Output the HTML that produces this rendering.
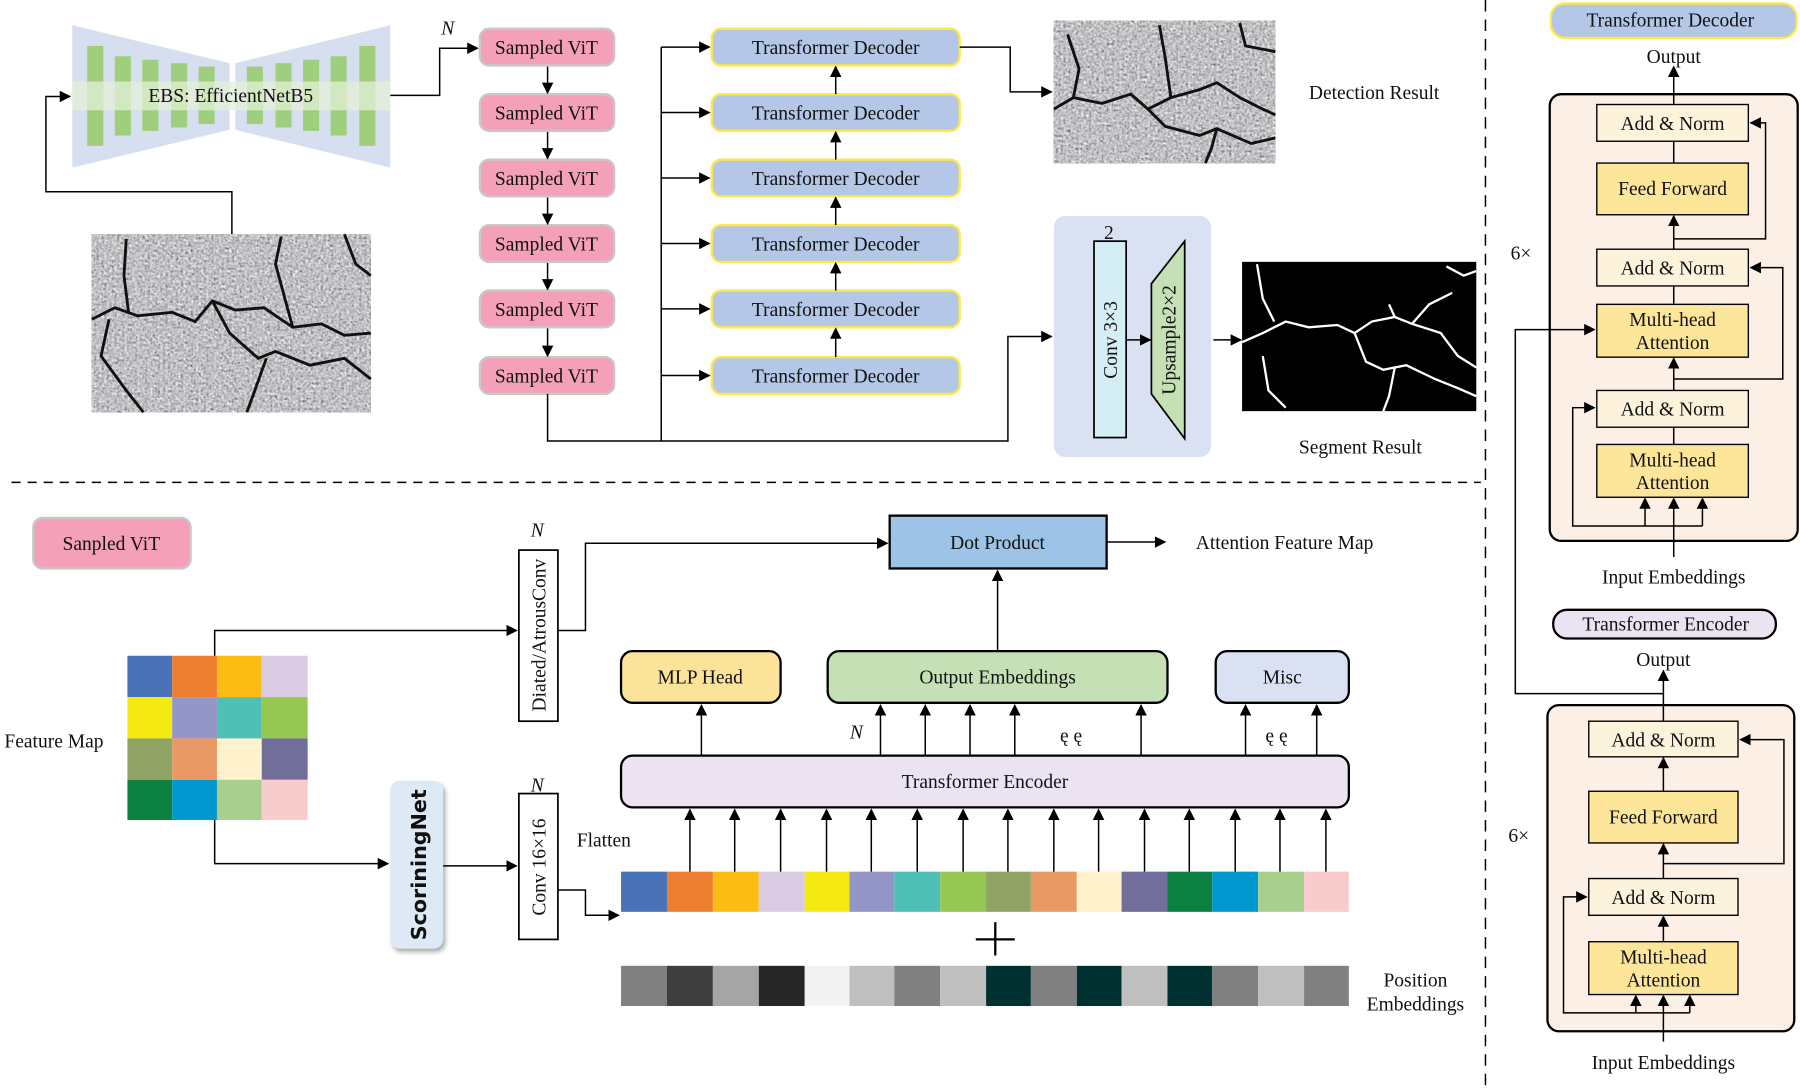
<!DOCTYPE html>
<html><head><meta charset="utf-8"><style>
html,body{margin:0;padding:0;background:#fff}
svg{display:block}
text{font-family:"Liberation Serif",serif;font-size:17px;fill:#111}
</style></head><body>
<svg width="1800" height="1091" viewBox="0 0 1568 950" preserveAspectRatio="none" xmlns="http://www.w3.org/2000/svg">
<defs>
<marker id="a" markerWidth="10" markerHeight="10" refX="9" refY="5" orient="auto" markerUnits="userSpaceOnUse" viewBox="0 0 10 10"><path d="M0,0 L10,5 L0,10 z" fill="#000"/></marker>
<filter id="tex" x="0" y="0" width="100%" height="100%"><feTurbulence type="fractalNoise" baseFrequency="0.45" numOctaves="2" seed="3"/><feColorMatrix type="matrix" values="0.55 0.55 0.55 0 -0.3  0.55 0.55 0.55 0 -0.3  0.55 0.55 0.55 0 -0.28  0 0 0 0 1"/></filter>
<filter id="sh"><feDropShadow dx="2" dy="3" stdDeviation="2" flood-color="#888" flood-opacity="0.7"/></filter>
</defs>
<!-- EBS -->
<polygon points="63,22 200,55 200,113 63,146" fill="#d6dff0"/>
<polygon points="340,22 205,55 205,113 340,146" fill="#d6dff0"/>
<g fill="#9fcf7d">
<rect x="76" y="40" width="14" height="87"/><rect x="100" y="49" width="14" height="69"/><rect x="124" y="52" width="14" height="62"/><rect x="149" y="55" width="14" height="56"/><rect x="173" y="58" width="14" height="50"/>
<rect x="215" y="58" width="14" height="50"/><rect x="240" y="55" width="14" height="56"/><rect x="264" y="52" width="14" height="62"/><rect x="288" y="49" width="14" height="69"/><rect x="313" y="40" width="14" height="87"/>
</g>
<rect x="63" y="71" width="277" height="25" fill="#e4efd8" opacity="0.75"/>
<text x="201" y="89" text-anchor="middle">EBS: EfficientNetB5</text>
<text x="390" y="30" text-anchor="middle" font-style="italic">N</text>
<g stroke="#000" stroke-width="1.3" fill="none">
<polyline points="340,83 383,83 383,42 416,42" marker-end="url(#a)"/>
<polyline points="202,205 202,167 40,167 40,84 61,84" marker-end="url(#a)"/>
</g>
<!-- crack image 1 -->
<rect x="80" y="204" width="243" height="155" filter="url(#tex)"/>
<g stroke="#111" stroke-width="2.5" fill="none">
<path d="M80,278 L100,268 L120,275 L150,272 L170,280 L185,262 L205,270 L230,268 L255,285 L280,282 L300,292 L323,290"/>
<path d="M110,208 L108,240 L112,272"/><path d="M185,262 L200,290 L225,312 L240,306 L270,318 L300,312 L323,330"/>
<path d="M232,312 L222,340 L215,359"/><path d="M95,278 L88,310 L110,340 L125,359"/><path d="M245,206 L240,230 L255,285"/><path d="M300,204 L310,230 L323,240"/>
</g>
<!-- Sampled ViT column -->
<g fill="#f4a0b8" stroke="#c8c8c8" stroke-width="2">
<rect x="418" y="25" width="117" height="32" rx="8"/><rect x="418" y="82" width="117" height="32" rx="8"/><rect x="418" y="139" width="117" height="32" rx="8"/><rect x="418" y="196" width="117" height="32" rx="8"/><rect x="418" y="253" width="117" height="32" rx="8"/><rect x="418" y="311" width="117" height="32" rx="8"/>
</g>
<g text-anchor="middle">
<text x="476" y="47">Sampled ViT</text><text x="476" y="104">Sampled ViT</text><text x="476" y="161">Sampled ViT</text><text x="476" y="218">Sampled ViT</text><text x="476" y="275">Sampled ViT</text><text x="476" y="333">Sampled ViT</text>
</g>
<g fill="#b4c7e7" stroke="#ffe84a" stroke-width="2">
<rect x="620" y="25" width="216" height="32" rx="8"/><rect x="620" y="82" width="216" height="32" rx="8"/><rect x="620" y="139" width="216" height="32" rx="8"/><rect x="620" y="196" width="216" height="32" rx="8"/><rect x="620" y="253" width="216" height="32" rx="8"/><rect x="620" y="311" width="216" height="32" rx="8"/>
</g>
<g text-anchor="middle">
<text x="728" y="47">Transformer Decoder</text><text x="728" y="104">Transformer Decoder</text><text x="728" y="161">Transformer Decoder</text><text x="728" y="218">Transformer Decoder</text><text x="728" y="275">Transformer Decoder</text><text x="728" y="333">Transformer Decoder</text>
</g>
<g stroke="#000" stroke-width="1.3" fill="none" marker-end="url(#a)">
<line x1="477" y1="58" x2="477" y2="81"/><line x1="477" y1="115" x2="477" y2="138"/><line x1="477" y1="172" x2="477" y2="195"/><line x1="477" y1="229" x2="477" y2="252"/><line x1="477" y1="286" x2="477" y2="310"/>
<line x1="728" y1="82" x2="728" y2="58"/><line x1="728" y1="139" x2="728" y2="115"/><line x1="728" y1="196" x2="728" y2="172"/><line x1="728" y1="253" x2="728" y2="229"/><line x1="728" y1="311" x2="728" y2="286"/>
<line x1="576" y1="41" x2="618" y2="41"/><line x1="576" y1="98" x2="618" y2="98"/><line x1="576" y1="155" x2="618" y2="155"/><line x1="576" y1="212" x2="618" y2="212"/><line x1="576" y1="269" x2="618" y2="269"/><line x1="576" y1="327" x2="618" y2="327"/>
<polyline points="477,343 477,384 878,384 878,293 916,293"/>
<polyline points="836,41 880,41 880,80 916,80"/>
</g>
<line x1="576" y1="41" x2="576" y2="384" stroke="#000" stroke-width="1.3"/>
<!-- detection image -->
<rect x="918" y="18" width="193" height="124" filter="url(#tex)"/>
<g stroke="#111" stroke-width="2.5" fill="none">
<path d="M918,95 L935,85 L960,90 L985,82 L1000,95 L1020,85 L1045,78 L1060,72 L1080,85 L1100,95 L1111,100"/>
<path d="M1000,95 L1015,110 L1045,118 L1060,112 L1090,125 L1111,120"/><path d="M1060,112 L1055,130 L1050,142"/><path d="M1010,22 L1015,50 L1020,85"/><path d="M930,30 L940,60 L935,85"/><path d="M1080,20 L1085,40 L1111,45"/>
</g>
<text x="1197" y="86" text-anchor="middle">Detection Result</text>
<!-- seg block -->
<rect x="918" y="188" width="137" height="210" rx="10" fill="#dae1f2"/>
<text x="966" y="208" text-anchor="middle">2</text>
<rect x="953" y="210" width="28" height="171" fill="#d5eef5" stroke="#000" stroke-width="1.5"/>
<text transform="translate(973,296) rotate(-90)" text-anchor="middle">Conv 3×3</text>
<polygon points="1003,247 1032,210 1032,382 1003,343" fill="#c5e0b4" stroke="#000" stroke-width="1.5"/>
<text transform="translate(1024,296) rotate(-90)" text-anchor="middle">Upsample2×2</text>
<g stroke="#000" stroke-width="1.3" fill="none" marker-end="url(#a)">
<line x1="981" y1="296" x2="1002" y2="296"/><line x1="1057" y1="296" x2="1081" y2="296"/>
</g>
<rect x="1082" y="228" width="204" height="130" fill="#000"/>
<g stroke="#fff" stroke-width="2" fill="none">
<path d="M1082,298 L1100,290 L1120,280 L1140,285 L1165,283 L1180,290 L1195,280 L1215,276 L1230,282 L1255,290 L1270,310 L1286,320"/>
<path d="M1180,290 L1190,315 L1205,322 L1225,318 L1250,330 L1270,338 L1286,345"/><path d="M1215,320 L1210,345 L1205,358"/>
<path d="M1095,230 L1100,260 L1110,280"/><path d="M1100,310 L1105,340 L1120,355"/><path d="M1210,265 L1215,276"/><path d="M1260,232 L1275,240 L1286,236"/><path d="M1230,282 L1245,265 L1265,255"/>
</g>
<text x="1185" y="395" text-anchor="middle">Segment Result</text>
<!-- dashed separators -->
<line x1="10" y1="420" x2="1290" y2="420" stroke="#000" stroke-width="1.3" stroke-dasharray="8,6"/>
<line x1="1294" y1="0" x2="1294" y2="950" stroke="#000" stroke-width="1.3" stroke-dasharray="10,7"/>
<!-- Right panel decoder -->
<rect x="1351" y="3" width="214" height="30" rx="12" fill="#b4c7e7" stroke="#ffe84a" stroke-width="2"/>
<text x="1455" y="23" text-anchor="middle">Transformer Decoder</text>
<text x="1458" y="55" text-anchor="middle">Output</text>
<rect x="1350" y="82" width="216" height="389" rx="10" fill="#fcefe6" stroke="#000" stroke-width="2"/>
<g stroke="#000" stroke-width="1.2">
<rect x="1391" y="91" width="132" height="32" fill="#fdf3dc"/>
<rect x="1391" y="142" width="132" height="45" fill="#fde59a"/>
<rect x="1391" y="217" width="132" height="32" fill="#fdf3dc"/>
<rect x="1391" y="265" width="132" height="46" fill="#fde59a"/>
<rect x="1391" y="340" width="132" height="32" fill="#fdf3dc"/>
<rect x="1391" y="387" width="132" height="46" fill="#fde59a"/>
</g>
<g text-anchor="middle">
<text x="1457" y="113">Add &amp; Norm</text><text x="1457" y="170">Feed Forward</text><text x="1457" y="239">Add &amp; Norm</text>
<text x="1457" y="284">Multi-head</text><text x="1457" y="304">Attention</text><text x="1457" y="362">Add &amp; Norm</text>
<text x="1457" y="406">Multi-head</text><text x="1457" y="426">Attention</text>
</g>
<g stroke="#000" stroke-width="1.3" fill="none">
<line x1="1458" y1="91" x2="1458" y2="58" marker-end="url(#a)"/>
<line x1="1458" y1="142" x2="1458" y2="123"/>
<line x1="1458" y1="217" x2="1458" y2="188" marker-end="url(#a)"/>
<line x1="1458" y1="265" x2="1458" y2="249"/>
<line x1="1458" y1="340" x2="1458" y2="312" marker-end="url(#a)"/>
<line x1="1458" y1="387" x2="1458" y2="372"/>
<polyline points="1458,208 1538,208 1538,107 1525,107" marker-end="url(#a)"/>
<polyline points="1458,330 1553,330 1553,233 1525,233" marker-end="url(#a)"/>
<polyline points="1483,458 1370,458 1370,355 1389,355" marker-end="url(#a)"/>
<line x1="1458" y1="485" x2="1458" y2="434" marker-end="url(#a)"/>
<line x1="1433" y1="458" x2="1433" y2="434" marker-end="url(#a)"/>
<line x1="1483" y1="458" x2="1483" y2="434" marker-end="url(#a)"/>
<polyline points="1449,604 1320,604 1320,287 1389,287" marker-end="url(#a)"/>
</g>
<text x="1325" y="226" text-anchor="middle">6×</text>
<text x="1458" y="508" text-anchor="middle">Input Embeddings</text>
<!-- Right panel encoder -->
<rect x="1353" y="531" width="194" height="25" rx="12" fill="#ebe3f2" stroke="#000" stroke-width="2"/>
<text x="1451" y="549" text-anchor="middle">Transformer Encoder</text>
<text x="1449" y="580" text-anchor="middle">Output</text>
<rect x="1348" y="614" width="215" height="284" rx="10" fill="#fcefe6" stroke="#000" stroke-width="2"/>
<g stroke="#000" stroke-width="1.2">
<rect x="1384" y="628" width="130" height="31" fill="#fdf3dc"/>
<rect x="1384" y="689" width="130" height="45" fill="#fde59a"/>
<rect x="1384" y="765" width="130" height="32" fill="#fdf3dc"/>
<rect x="1384" y="820" width="130" height="46" fill="#fde59a"/>
</g>
<g text-anchor="middle">
<text x="1449" y="650">Add &amp; Norm</text><text x="1449" y="717">Feed Forward</text><text x="1449" y="787">Add &amp; Norm</text>
<text x="1449" y="839">Multi-head</text><text x="1449" y="859">Attention</text>
</g>
<g stroke="#000" stroke-width="1.3" fill="none">
<line x1="1449" y1="628" x2="1449" y2="584" marker-end="url(#a)"/>
<line x1="1449" y1="689" x2="1449" y2="660" marker-end="url(#a)"/>
<line x1="1449" y1="765" x2="1449" y2="735" marker-end="url(#a)"/>
<line x1="1449" y1="820" x2="1449" y2="798" marker-end="url(#a)"/>
<polyline points="1449,752 1554,752 1554,644 1516,644" marker-end="url(#a)"/>
<polyline points="1472,882 1362,882 1362,781 1382,781" marker-end="url(#a)"/>
<line x1="1449" y1="907" x2="1449" y2="867" marker-end="url(#a)"/>
<line x1="1425" y1="882" x2="1425" y2="867" marker-end="url(#a)"/>
<line x1="1472" y1="882" x2="1472" y2="867" marker-end="url(#a)"/>
</g>
<text x="1323" y="733" text-anchor="middle">6×</text>
<text x="1449" y="931" text-anchor="middle">Input Embeddings</text>
<!-- Bottom left -->
<rect x="29" y="451" width="137" height="44" rx="8" fill="#f4a0b8" stroke="#c8c8c8" stroke-width="2"/>
<text x="97" y="479" text-anchor="middle">Sanpled  ViT</text>
<g>
<rect x="111" y="571" width="39" height="36" fill="#4a72b8"/><rect x="150" y="571" width="39" height="36" fill="#ed7d31"/><rect x="189" y="571" width="39" height="36" fill="#fbbc13"/><rect x="228" y="571" width="40" height="36" fill="#d8cbe2"/>
<rect x="111" y="607" width="39" height="36" fill="#f4e910"/><rect x="150" y="607" width="39" height="36" fill="#9596c8"/><rect x="189" y="607" width="39" height="36" fill="#50c0b6"/><rect x="228" y="607" width="40" height="36" fill="#94c852"/>
<rect x="111" y="643" width="39" height="36" fill="#90a264"/><rect x="150" y="643" width="39" height="36" fill="#e99a64"/><rect x="189" y="643" width="39" height="36" fill="#fff2cc"/><rect x="228" y="643" width="40" height="36" fill="#716e9c"/>
<rect x="111" y="679" width="39" height="35" fill="#0b8040"/><rect x="150" y="679" width="39" height="35" fill="#0098cf"/><rect x="189" y="679" width="39" height="35" fill="#a9cf8e"/><rect x="228" y="679" width="40" height="35" fill="#f8cbcc"/>
</g>
<text x="47" y="651" text-anchor="middle">Feature Map</text>
<rect x="452" y="479" width="34" height="149" fill="#fff" stroke="#000" stroke-width="1.5"/>
<text transform="translate(475,553) rotate(-90)" text-anchor="middle">Diated/AtrousConv</text>
<text x="468" y="467" text-anchor="middle" font-style="italic">N</text>
<rect x="775" y="449" width="189" height="46" fill="#9dc3e6" stroke="#000" stroke-width="2"/>
<text x="869" y="478" text-anchor="middle">Dot Product</text>
<text x="1119" y="478" text-anchor="middle">Attention Feature Map</text>
<rect x="340" y="680" width="46" height="146" rx="8" fill="#ddeaf6" filter="url(#sh)"/>
<text transform="translate(371,753) rotate(-90)" text-anchor="middle" style="font-family:'DejaVu Sans','Liberation Sans',sans-serif;font-weight:bold;font-size:18px">ScoriningNet</text>
<rect x="452" y="691" width="34" height="127" fill="#fff" stroke="#000" stroke-width="1.5"/>
<text transform="translate(475,755) rotate(-90)" text-anchor="middle">Conv 16×16</text>
<text x="468" y="689" text-anchor="middle" font-style="italic">N</text>
<text x="526" y="737" text-anchor="middle">Flatten</text>
<g stroke="#000" stroke-width="1.3" fill="none" marker-end="url(#a)">
<polyline points="187,571 187,549 450,549"/>
<polyline points="486,549 510,549 510,473 773,473"/>
<line x1="964" y1="472" x2="1015" y2="472"/>
<polyline points="187,714 187,752 338,752"/>
<line x1="386" y1="754" x2="450" y2="754"/>
<polyline points="486,775 510,775 510,797 539,797"/>
<line x1="869" y1="567" x2="869" y2="497"/>
<line x1="611" y1="658" x2="611" y2="614"/>
<line x1="767" y1="658" x2="767" y2="614"/><line x1="806" y1="658" x2="806" y2="614"/><line x1="845" y1="658" x2="845" y2="614"/><line x1="884" y1="658" x2="884" y2="614"/><line x1="994" y1="658" x2="994" y2="614"/>
<line x1="1085" y1="658" x2="1085" y2="614"/><line x1="1147" y1="658" x2="1147" y2="614"/>
</g>
<!-- token rows -->
<g>
<rect x="541" y="759" width="40" height="35" fill="#4a72b8"/><rect x="581" y="759" width="40" height="35" fill="#ed7d31"/><rect x="621" y="759" width="40" height="35" fill="#fbbc13"/><rect x="661" y="759" width="40" height="35" fill="#d8cbe2"/>
<rect x="701" y="759" width="39" height="35" fill="#f4e910"/><rect x="740" y="759" width="39" height="35" fill="#9596c8"/><rect x="779" y="759" width="40" height="35" fill="#50c0b6"/><rect x="819" y="759" width="40" height="35" fill="#94c852"/>
<rect x="859" y="759" width="39" height="35" fill="#90a264"/><rect x="898" y="759" width="40" height="35" fill="#e99a64"/><rect x="938" y="759" width="39" height="35" fill="#fff2cc"/><rect x="977" y="759" width="40" height="35" fill="#716e9c"/>
<rect x="1017" y="759" width="39" height="35" fill="#0b8040"/><rect x="1056" y="759" width="40" height="35" fill="#0098cf"/><rect x="1096" y="759" width="40" height="35" fill="#a9cf8e"/><rect x="1136" y="759" width="39" height="35" fill="#f8cbcc"/>
</g>
<g>
<rect x="541" y="841" width="40" height="35" fill="#808080"/><rect x="581" y="841" width="40" height="35" fill="#3e3e3e"/><rect x="621" y="841" width="40" height="35" fill="#a5a5a5"/><rect x="661" y="841" width="40" height="35" fill="#262626"/>
<rect x="701" y="841" width="39" height="35" fill="#f2f2f2"/><rect x="740" y="841" width="39" height="35" fill="#bfbfbf"/><rect x="779" y="841" width="40" height="35" fill="#808080"/><rect x="819" y="841" width="40" height="35" fill="#bfbfbf"/>
<rect x="859" y="841" width="39" height="35" fill="#003030"/><rect x="898" y="841" width="40" height="35" fill="#808080"/><rect x="938" y="841" width="39" height="35" fill="#003030"/><rect x="977" y="841" width="40" height="35" fill="#bfbfbf"/>
<rect x="1017" y="841" width="39" height="35" fill="#003030"/><rect x="1056" y="841" width="40" height="35" fill="#808080"/><rect x="1096" y="841" width="40" height="35" fill="#bfbfbf"/><rect x="1136" y="841" width="39" height="35" fill="#808080"/>
</g>
<g stroke="#000" stroke-width="2"><line x1="850" y1="818" x2="884" y2="818"/><line x1="867" y1="803" x2="867" y2="832"/></g>
<text x="1233" y="859" text-anchor="middle">Position</text>
<text x="1233" y="880" text-anchor="middle">Embeddings</text>
<g stroke="#000" stroke-width="1.3" fill="none" marker-end="url(#a)">
<line x1="601" y1="759" x2="601" y2="705"/><line x1="640" y1="759" x2="640" y2="705"/><line x1="680" y1="759" x2="680" y2="705"/><line x1="720" y1="759" x2="720" y2="705"/>
<line x1="759" y1="759" x2="759" y2="705"/><line x1="799" y1="759" x2="799" y2="705"/><line x1="839" y1="759" x2="839" y2="705"/><line x1="878" y1="759" x2="878" y2="705"/>
<line x1="918" y1="759" x2="918" y2="705"/><line x1="957" y1="759" x2="957" y2="705"/><line x1="997" y1="759" x2="997" y2="705"/><line x1="1036" y1="759" x2="1036" y2="705"/>
<line x1="1076" y1="759" x2="1076" y2="705"/><line x1="1115" y1="759" x2="1115" y2="705"/><line x1="1155" y1="759" x2="1155" y2="705"/>
</g>
<rect x="541" y="658" width="634" height="45" rx="10" fill="#ebe3f2" stroke="#000" stroke-width="2"/>
<text x="858" y="686" text-anchor="middle">Transformer Encoder</text>
<rect x="541" y="567" width="139" height="45" rx="10" fill="#fbe39a" stroke="#000" stroke-width="2"/>
<text x="610" y="595" text-anchor="middle">MLP Head</text>
<rect x="721" y="567" width="296" height="45" rx="10" fill="#c5e0b4" stroke="#000" stroke-width="2"/>
<text x="869" y="595" text-anchor="middle">Output Embeddings</text>
<rect x="1059" y="567" width="116" height="45" rx="10" fill="#dae1f2" stroke="#000" stroke-width="2"/>
<text x="1117" y="595" text-anchor="middle">Misc</text>
<text x="746" y="643" text-anchor="middle" font-style="italic">N</text>
<text x="933" y="646" text-anchor="middle">ę ę</text>
<text x="1112" y="646" text-anchor="middle">ę ę</text>
</svg>
</body></html>
